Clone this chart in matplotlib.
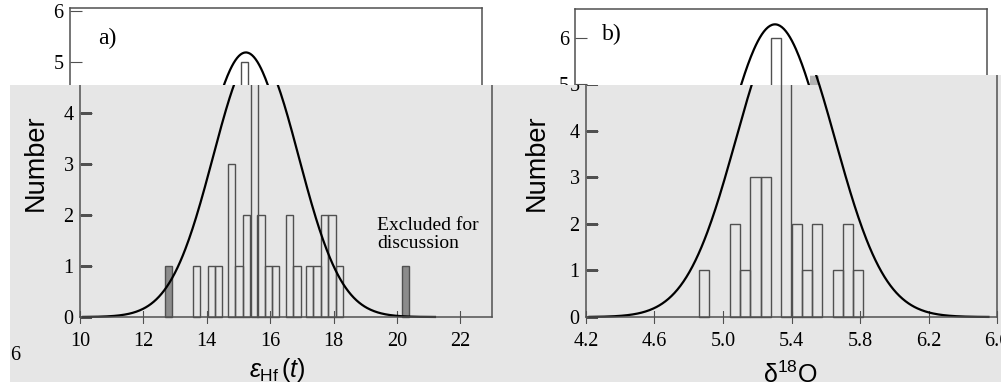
import numpy as np
import matplotlib
matplotlib.use('Agg')
import matplotlib.pyplot as plt
from matplotlib.patches import Polygon, Rectangle
from matplotlib.text import Text
from matplotlib.transforms import Bbox, TransformedBbox

plt.rcParams['font.family'] = 'Liberation Serif'
plt.rcParams['mathtext.fontset'] = 'custom'
plt.rcParams['mathtext.rm'] = 'Liberation Sans'
plt.rcParams['mathtext.it'] = 'Liberation Sans:italic'

# a) eHf(t) histogram
hf_left = [13.56, 14.03, 14.26, 14.67, 14.90, 15.14, 15.38, 15.60, 15.83, 16.06,
           16.50, 16.73, 17.13, 17.36, 17.60, 17.84, 18.07]
hf_count = [1, 1, 1, 3, 1, 2, 5, 2, 1, 1, 2, 1, 1, 1, 2, 2, 1]
hf_excl_left = [12.67, 20.16]
hf_excl_count = [1, 1]
hf_width = 0.23
hf_fit_mean, hf_fit_sd, hf_fit_peak = 15.55, 1.35, 5.18
hf_curve_range = (10.1, 21.2)
hf_xticks = [10, 12, 14, 16, 18, 20, 22]

# b) d18O histogram
o_left = [4.86, 5.04, 5.10, 5.16, 5.22, 5.34, 5.40, 5.46, 5.52, 5.64, 5.70, 5.76]
o_count = [1, 2, 1, 3, 3, 6, 2, 1, 2, 1, 2, 1]
o_width = 0.06
o_fit_mean, o_fit_sd, o_fit_peak = 5.365, 0.29, 6.29
o_curve_range = (4.22, 6.55)
o_xticks = [4.2, 4.6, 5.0, 5.4, 5.8, 6.2, 6.6]
o_xticklabels = ['4.2', '4.6', '5.0', '5.4', '5.8', '6.2', '6.6']

y_ticks = [0, 1, 2, 3, 4, 5, 6]

W, H = 1001, 382
EDGE = '#505050'
GREY = '#e6e6e6'
SIZE = 14.5

fig = plt.figure(figsize=(W / 100, H / 100), dpi=100)


def px(x0, y0, x1, y1):
    return [x0 / W, 1 - y1 / H, (x1 - x0) / W, (y1 - y0) / H]


def style(ax):
    for s in ax.spines.values():
        s.set_color(EDGE)
        s.set_linewidth(1.1)
    ax.tick_params(axis='y', direction='in', length=8.5, width=0.8, color=EDGE,
                   pad=4.5, labelsize=SIZE)
    ax.tick_params(axis='x', direction='inout', length=8.5, width=0.8, color=EDGE,
                   pad=6.5, labelsize=SIZE)


def fit_curve(ax, rng, mean, sd, peak):
    xs = np.linspace(rng[0], rng[1], 400)
    ax.plot(xs, peak * np.exp(-0.5 * ((xs - mean) / sd) ** 2), color='black', lw=1.6)


def panel_a(ax):
    ax.bar(hf_left, hf_count, width=hf_width, align='edge', facecolor='none',
           edgecolor=EDGE, lw=1.0)
    ax.bar(hf_excl_left, hf_excl_count, width=hf_width, align='edge',
           facecolor='#8c8c8c', edgecolor=EDGE, lw=1.0)
    fit_curve(ax, hf_curve_range, hf_fit_mean, hf_fit_sd, hf_fit_peak)
    ax.set_xlim(10, 23)
    ax.set_ylim(0, 6.05)
    ax.set_xticks(hf_xticks)
    ax.set_yticks(y_ticks)
    ax.text(19.37, 1.62, 'Excluded for\ndiscussion', ha='left', va='center',
            fontsize=14, linespacing=1.1)
    ax.text(0.068, 0.90, 'a)', transform=ax.transAxes, fontsize=17, va='center')
    ax.set_ylabel('Number', family='Liberation Sans', fontsize=19.5)
    ax.yaxis.set_label_coords(-0.075, 0.5)
    ax.set_xlabel(r'$\varepsilon_{\mathrm{Hf}}\,(t)$', fontsize=18)
    ax.xaxis.set_label_coords(0.478, -0.125)
    style(ax)


def panel_b(ax):
    ax.bar(o_left, o_count, width=o_width, align='edge', facecolor='none',
           edgecolor=EDGE, lw=1.0)
    fit_curve(ax, o_curve_range, o_fit_mean, o_fit_sd, o_fit_peak)
    ax.set_xlim(4.2, 6.6)
    ax.set_ylim(0, 6.62)
    ax.set_xticks(o_xticks, o_xticklabels)
    ax.set_yticks(y_ticks)
    ax.text(0.066, 0.916, 'b)', transform=ax.transAxes, fontsize=17, va='center')
    ax.set_ylabel('Number', family='Liberation Sans', fontsize=19.5)
    ax.yaxis.set_label_coords(-0.088, 0.5)
    ax.set_xlabel(r'$\mathrm{\delta}^{18}\mathrm{O}$', fontsize=18)
    ax.xaxis.set_label_coords(0.496, -0.146)
    style(ax)


# top (white) copy of the scan
ax_a0 = fig.add_axes(px(70, 8, 482, 317))
ax_b0 = fig.add_axes(px(575, 9, 987, 317))
panel_a(ax_a0)
panel_b(ax_b0)

# grey, slightly shifted copy covering the lower part of the scan
verts = [(10, 382), (10, 85), (810, 85), (810, 75), (1001, 75), (1001, 382)]
verts = [(x / W, 1 - y / H) for x, y in verts]
fig.add_artist(Polygon(verts, closed=True, transform=fig.transFigure,
                       facecolor=GREY, edgecolor='none', zorder=1))
fig.add_artist(Rectangle((810 / W, 1 - 85 / H), 9 / W, 9 / H, transform=fig.transFigure,
                         facecolor='#b4b4b4', edgecolor='none', zorder=1.5))
clip_poly = Polygon(verts, closed=True, transform=fig.transFigure)
clip_box = TransformedBbox(Bbox.from_extents(10 / W, 0, 1, 1 - 85 / H), fig.transFigure)

ax_a1 = fig.add_axes(px(80, 8, 492, 317))
ax_b1 = fig.add_axes(px(586, 9, 997, 317))
panel_a(ax_a1)
panel_b(ax_b1)
for ax in (ax_a1, ax_b1):
    ax.set_zorder(2)
    ax.patch.set_facecolor('none')
    ax.xaxis.get_major_ticks()
    ax.yaxis.get_major_ticks()
    for a in ax.findobj():
        if a is ax:
            continue
        a.set_clip_on(True)
        if isinstance(a, Text):
            a.set_clip_box(clip_box)
        else:
            a.set_clip_box(None)
            a.set_clip_path(clip_poly)

fig.text(15 / W, 1 - 356 / H, '6', ha='center', va='center', fontsize=SIZE, zorder=3)

fig.savefig('out.png', dpi=100)
